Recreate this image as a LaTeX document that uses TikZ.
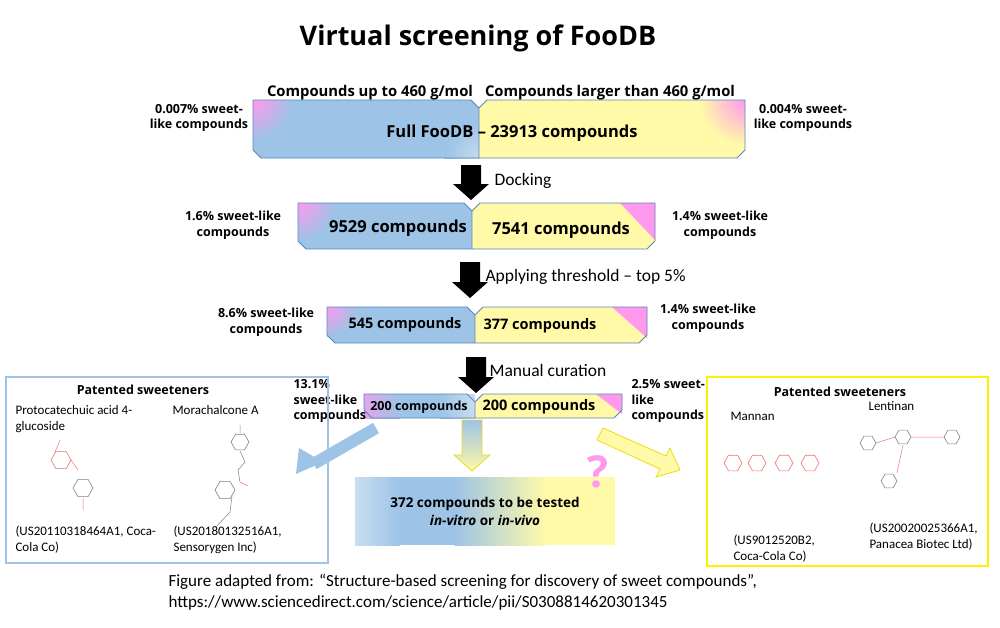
\documentclass[tikz,border=0pt]{standalone}
\usepackage{fontspec}
\setmainfont{Carlito}
\newfontfamily\osans[Ligatures=TeX]{Open Sans}
\usetikzlibrary{calc}
\begin{document}
\definecolor{bblue}{HTML}{9DC3E6}
\definecolor{lblue}{HTML}{C9DEF0}
\definecolor{byel}{HTML}{FFF9A8}
\definecolor{bpink}{HTML}{FF99EE}
\definecolor{edge}{HTML}{5A86B8}
\definecolor{molred}{HTML}{F07070}
\definecolor{molgray}{HTML}{808080}
\newcommand{\fleft}[5]{% x0 s y0 y1 name
  \path[fill=bblue] (#1,#3)--({#2-8},#3)--(#2,{#3+8})--(#2,#4)--({#1+8},#4)--(#1,{#4-8})--cycle;}
\newcommand{\fright}[5]{% s x1 y0 y1
  \path[fill=byel] (#1,{#3+8})--({#1+8},#3)--(#2,#3)--(#2,{#4-8})--({#2-8},#4)--(#1,#4)--cycle;}
\newcommand{\foutline}[5]{% x0 s x1 y0 y1
  \draw[edge,line width=0.8pt] (#1,#4)--({#2-8},#4)--(#2,{#4+8})--({#2+8},#4)--(#3,#4)--(#3,{#5-8})--({#3-8},#5)--({#1+8},#5)--(#1,{#5-8})--cycle (#2,{#4+8})--(#2,#5);}
\newcommand{\hexa}[4]{% x y r color
  \draw[#4,line width=0.6pt] (#1+#3,#2) \foreach \a in {60,120,...,300}{ -- ({#1+#3*cos(\a)},{#2+#3*sin(\a)})} -- cycle;}
\begin{tikzpicture}[x=1pt,y=-1pt,
  lab/.style={font=\osans\bfseries\fontsize{12.5}{15.5}\selectfont,align=center},
  barlab/.style={font=\osans\bfseries\fontsize{14.8}{17}\selectfont},
  big/.style={font=\osans\bfseries\fontsize{16.5}{20}\selectfont},
  steplab/.style={font=\fontsize{17.5}{20}\selectfont,anchor=west},
  reg/.style={font=\fontsize{13}{16}\selectfont,align=left,anchor=north west},
  blk/.style={fill=black}]
\useasboundingbox (0,0) rectangle (1000,627);
\node[font=\osans\bfseries\fontsize{27}{32}\selectfont] (title) at (478,38) {Virtual screening of FooDB};

% bar 1
\fleft{253}{479}{100}{158}{}
\fright{479}{745}{100}{158}{}
\begin{scope}
\clip (253,100) rectangle (479,158);
\shade[inner color=bpink,outer color=bblue] (253,100) circle (40);
\shade[inner color=white!40!bblue,outer color=bblue] (479,158) circle (35);
\end{scope}
\begin{scope}
\clip (479,100) rectangle (745,158);
\shade[inner color=bpink,outer color=byel] (745,100) circle (45);
\end{scope}
\foutline{253}{479}{745}{100}{158}
\node[barlab] (h1) at (370,93) {Compounds up to 460 g/mol};
\node[barlab] (h2) at (610,93) {Compounds larger than 460 g/mol};
\node[big] (b1) at (512,133) {Full FooDB – 23913 compounds};
\node[lab] (l1) at (199,118) {0.007\% sweet-\\like compounds};
\node[lab] (r1) at (803,118) {0.004\% sweet-\\like compounds};

% arrow 1
\newcommand{\barrow}[3]{\path[blk] ({#1-10},#2)--({#1+10},#2)--({#1+10},{#3-16})--({#1+18},{#3-16})--(#1,#3)--({#1-18},{#3-16})--({#1-10},{#3-16})--cycle;}
\barrow{471}{165}{200}
\node[steplab] (s1) at (491,181) {Docking};

% bar 2
\fleft{298}{472}{203}{249}{}
\fright{472}{655}{203}{249}{}
\begin{scope}
\clip (298,203) rectangle (472,249);
\shade[inner color=bpink,outer color=bblue] (298,203) circle (38);
\end{scope}
\begin{scope}
\clip (472,203) rectangle (655,249);
\shade[inner color=bpink,outer color=byel] (655,203) circle (18);
\fill[bpink] (620,203)--(655,203)--(655,240)--cycle;
\end{scope}
\foutline{298}{472}{655}{203}{249}
\node[big] (b2l) at (398,228) {9529 compounds};
\node[big] (b2r) at (561,230) {7541 compounds};
\node[lab] (l2) at (233,225) {1.6\% sweet-like\\compounds};
\node[lab] (r2) at (720,225) {1.4\% sweet-like\\compounds};

\barrow{470}{262}{298}
\node[steplab] (s2) at (482,277) {Applying threshold -- top 5\%};

% bar 3
\fleft{327}{475}{307}{343}{}
\fright{475}{647}{307}{343}{}
\begin{scope}
\clip (327,307) rectangle (475,343);
\shade[inner color=bpink,outer color=bblue] (327,307) circle (30);
\end{scope}
\begin{scope}
\clip (475,307) rectangle (647,343);
\fill[bpink] (612,307)--(647,307)--(647,338)--cycle;
\end{scope}
\foutline{327}{475}{647}{307}{343}
\node[big,font=\osans\bfseries\fontsize{14.5}{18}\selectfont] (b3l) at (405,325) {545 compounds};
\node[big,font=\osans\bfseries\fontsize{14.5}{18}\selectfont] (b3r) at (540,326) {377 compounds};
\node[lab] (l3) at (266,322) {8.6\% sweet-like\\compounds};
\node[lab] (r3) at (708,318) {1.4\% sweet-like\\compounds};

\barrow{476}{357}{393}
\node[steplab] (s3) at (486,370) {Manual curation};

% bar 4
\fleft{364}{475}{394}{418}{}
\fright{475}{622}{394}{418}{}
\begin{scope}
\clip (364,394) rectangle (475,418);
\shade[left color=bpink!70!bblue,right color=bblue] (364,394) rectangle (400,418);
\shade[left color=bblue,right color=lblue] (440,394) rectangle (475,418);
\end{scope}
\begin{scope}
\clip (475,394) rectangle (622,418);
\fill[bpink] (596,394)--(622,394)--(622,414)--cycle;
\end{scope}
\foutline{364}{475}{622}{394}{418}
\node[font=\osans\bfseries\fontsize{12.5}{14}\selectfont] (b4l) at (419,407) {200 compounds};
\node[font=\osans\bfseries\fontsize{14.5}{16}\selectfont] (b4r) at (539,407) {200 compounds};
\node[lab,align=left,anchor=north west] (l4) at (290,376) {13.1\%\\sweet-like\\compounds};
\node[lab,align=left,anchor=north west] (r4) at (628,376) {2.5\% sweet-\\like\\compounds};

% down gradient arrow
\shade[top color=bblue,bottom color=byel,draw=yellow!90!black,line width=0.8pt]
 (462,420)--(482,420)--(482,455)--(490,455)--(472,471)--(454,455)--(462,455)--cycle;
% left blue arrow
\coordinate (la1) at (376,428);
\coordinate (la2) at (296,474);
\draw[bblue,line width=12pt] (la1) -- ($(la1)!0.78!(la2)$);
\fill[bblue] (la2) -- ++(3,-26) -- ++(24,14) -- cycle;
% right yellow arrow
\coordinate (ra1) at (600,434);
\coordinate (ra2) at (680,470);
\draw[yellow!90!black,line width=0.8pt,fill=byel]
 (597,440)--(603,428)--(666,456)--(670,448)--(680,470)--(656,477)--(660,469)--cycle;

% result box
\shade[left color=lblue,right color=bblue] (355,477) rectangle (400,545);
\fill[bblue] (399.5,477) rectangle (455,545);
\shade[left color=bblue,right color=byel] (454.5,477) rectangle (545,545);
\fill[byel] (544.5,477) rectangle (615,545);
\node[font=\osans\bfseries\fontsize{13.5}{18}\selectfont,align=center] (res) at (485,511)
 {372 compounds to be tested\\\textit{in-vitro} or \textit{in-vivo}};
\node[text=bpink,font=\osans\bfseries\fontsize{44}{48}\selectfont] (q) at (598,472) {?};

% left patent box
\draw[bblue,line width=2.5pt] (6,377) rectangle (328,563);
\node[font=\osans\bfseries\fontsize{12.5}{15}\selectfont] (pl) at (143,390) {Patented sweeteners};
\node[reg] (m1) at (12,402) {Protocatechuic acid 4-\\glucoside};
\node[reg] (m2) at (169,402) {Morachalcone A};
\node[reg] (p1) at (12,522) {(US20110318464A1, Coca-\\Cola Co)};
\node[reg] (p2) at (170,522) {(US20180132516A1,\\Sensorygen Inc)};
% molecule sketches
\hexa{61}{460}{10}{molred}
\hexa{83}{488}{10}{molgray}
\draw[molred,line width=0.5pt] (71,460)--(78,470) (83,498)--(83,510) (55,452)--(60,440);
\hexa{240}{442}{9}{molgray}
\hexa{225}{490}{10}{molgray}
\draw[molgray,line width=0.5pt] (240,451)--(245,462)--(238,470)--(240,482) (232,496)--(230,512)--(215,528);
\draw[molred,line width=0.5pt] (240,482)--(248,486) (240,433)--(240,425);

% right patent box
\draw[yellow,line width=2.5pt] (707,377) rectangle (988,566);
\node[font=\osans\bfseries\fontsize{12.5}{15}\selectfont] (pr) at (840,392) {Patented sweeteners};
\node[reg] (m3) at (727,409) {Mannan};
\node[reg] (m4) at (865,398) {Lentinan};
\node[reg] (p3) at (730,531) {(US9012520B2,\\Coca-Cola Co)};
\node[reg] (p4) at (866,519) {(US20020025366A1,\\Panacea Biotec Ltd)};
\foreach \x in {733,757,784,810}{\hexa{\x}{463}{9}{molred}}
\hexa{868}{443}{8}{molgray}
\hexa{903}{437}{8}{molgray}
\hexa{952}{437}{8}{molgray}
\hexa{889}{481}{8}{molgray}
\draw[molred,line width=0.5pt] (876,443)--(895,437) (911,437)--(944,437) (903,445)--(897,473);

% footer
\node[font=\fontsize{17}{21}\selectfont,align=left,anchor=north west] (foot) at (165,571)
 {Figure adapted from: “Structure-based screening for discovery of sweet compounds”,\\https://www.sciencedirect.com/science/article/pii/S0308814620301345};
\end{tikzpicture}
\end{document}
